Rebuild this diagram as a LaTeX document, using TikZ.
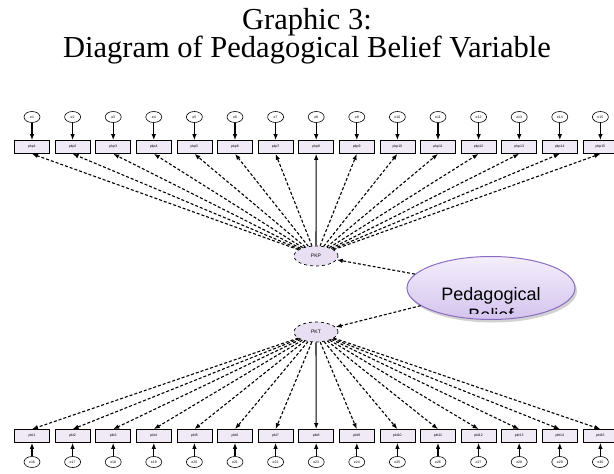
\documentclass[tikz,border=0pt]{standalone}
\usepackage{fontspec}
\setmainfont{Liberation Serif}
\newfontfamily\arialf{Liberation Sans}
\usetikzlibrary{shapes.geometric,shadows,arrows.meta}
\definecolor{boxfill}{RGB}{240,234,246}
\definecolor{latfill}{RGB}{232,224,242}
\definecolor{pbtop}{RGB}{244,238,252}
\definecolor{pbbot}{RGB}{212,196,238}
\definecolor{pbdraw}{RGB}{138,108,190}
\begin{document}
\begin{tikzpicture}[x=1pt,y=-1pt,
  >={Latex[length=6pt,width=4.5pt]},
  obs/.style={draw=black,line width=0.7pt,fill=boxfill,minimum width=35pt,minimum height=13pt,inner sep=0pt,font=\arialf\fontsize{3.5}{4}\selectfont},
  err/.style={ellipse,draw=black,line width=0.6pt,fill=white,minimum width=16pt,minimum height=11pt,inner sep=0pt,font=\arialf\fontsize{3.5}{4}\selectfont},
  lat/.style={ellipse,draw=black,dashed,line width=0.7pt,fill=latfill,minimum width=44pt,minimum height=20pt,inner sep=0pt,font=\arialf\fontsize{5}{6}\selectfont},
  big/.style={ellipse,draw=pbdraw,line width=1pt,top color=pbtop,bottom color=pbbot,minimum width=168pt,minimum height=63pt,inner sep=0pt,drop shadow={shadow xshift=2pt,shadow yshift=-3pt,opacity=0.35}},
  load/.style={->,dashed,dash pattern=on 3pt off 2pt,line width=1.1pt},
  loadsolid/.style={->,line width=1.1pt},
  erra/.style={->,line width=1.1pt},
  titlef/.style={font=\fontsize{30.5}{36}\selectfont}
]
\useasboundingbox (0,0) rectangle (614,474);
\fill[white] (0,0) rectangle (614,474);

\node[titlef,anchor=base] (t1) at (307,29) {Graphic 3:};
\node[titlef,anchor=base] (t2) at (307,57) {Diagram of Pedagogical Belief Variable};

\node[lat] (pkp) at (316,256) {PKP};
\node[lat] (pkt) at (316,332) {PKT};

\foreach \i in {1,...,15}{
  \pgfmathsetmacro\xx{32+40.6*(\i-1)}
  \pgfmathtruncatemacro\k{\i+15}
  \node[obs] (tb\i) at (\xx,147) {pkp\i};
  \node[err] (te\i) at (\xx,117) {e\i};
  \draw[erra] (te\i) -- (tb\i);
  \node[obs] (bb\i) at (\xx,436) {pkt\i};
  \node[err] (be\i) at (\xx,462) {e\k};
  \draw[erra] (be\i) -- (bb\i);
  \ifnum\i=8
    \draw[loadsolid] (pkp) -- (tb\i.south);
    \draw[loadsolid] (pkt) -- (bb\i.north);
  \else
    \draw[load] (pkp) -- (tb\i.south);
    \draw[load] (pkt) -- (bb\i.north);
  \fi
}

\node[big] (pb) at (491,288) {};
\begin{scope}
  \clip (491,288) ellipse (83 and 31);
  \clip (400,250) rectangle (590,313);
  \node[font=\arialf\fontsize{18}{21}\selectfont,align=center,anchor=base] (pbt) at (491,321) {Pedagogical\\Belief};
\end{scope}
\draw[load] (pb) -- (pkp);
\draw[load] (pb) -- (pkt);
\end{tikzpicture}
\end{document}
